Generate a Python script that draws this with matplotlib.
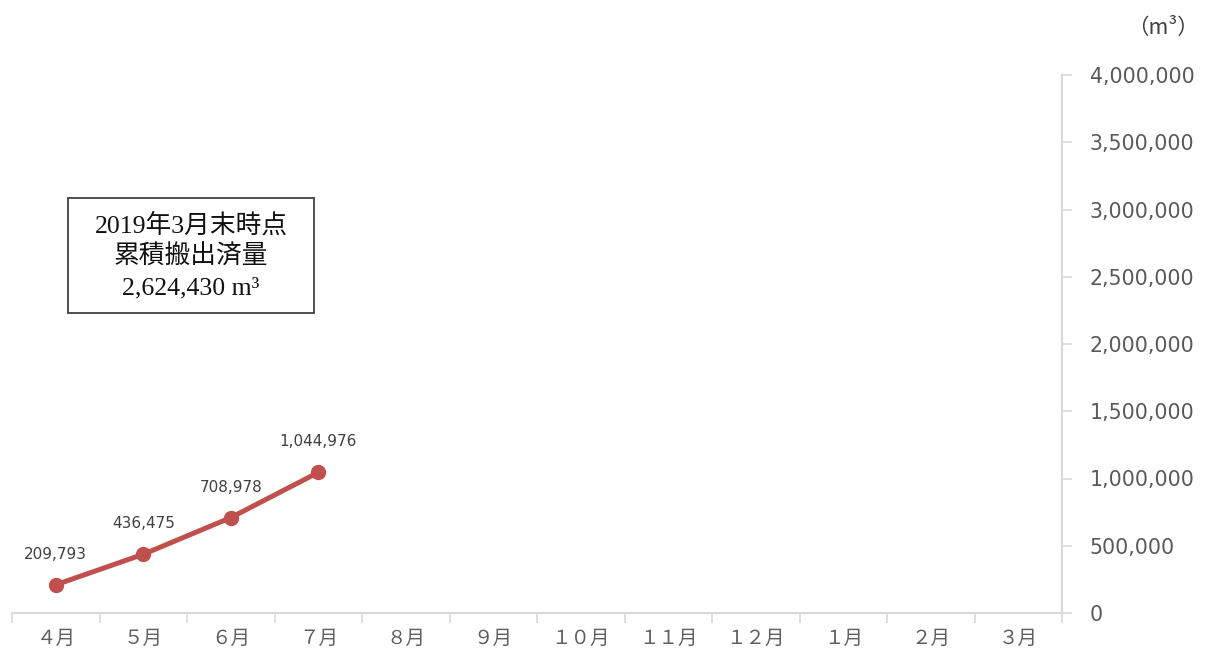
import matplotlib
matplotlib.use("Agg")
import matplotlib.pyplot as plt
from matplotlib.patches import Rectangle
from matplotlib.ticker import FuncFormatter, MultipleLocator

plt.rcParams['font.family'] = ['Noto Sans CJK JP', 'DejaVu Sans']

months = ["4月", "5月", "6月", "7月", "8月", "9月", "10月", "11月", "12月", "1月", "2月", "3月"]
cumulative = [209793, 436475, 708978, 1044976]
y_max = 4000000
y_step = 500000
box_lines = ["2019年3月末時点", "累積搬出済量", "2,624,430 m³"]

# the original labels use wide digits
FULLWIDTH = str.maketrans("0123456789", "０１２３４５６７８９")

W, H = 1207, 659
fig = plt.figure(figsize=(W / 100, H / 100), dpi=100)
ax = fig.add_axes([12 / W, (H - 613) / H, (1062 - 12) / W, (613 - 75) / H])

x = list(range(len(cumulative)))
ax.plot(x, cumulative, color="#C0504D", lw=3.6, marker="o", ms=10,
        solid_capstyle="round", zorder=3)
for xi, v in zip(x, cumulative):
    ax.annotate(f"{v:,}", (xi, v), xytext=(0, 22), textcoords="offset points",
                ha="center", va="center", fontsize=11, color="#404040",
                family=["DejaVu Sans"])

ax.set_xlim(-0.5, len(months) - 0.5)
ax.set_ylim(0, y_max)

# category axis: ticks between categories, labels centered
ax.set_xticks([i - 0.5 for i in range(len(months) + 1)])
ax.set_xticklabels([])
ax.set_xticks(range(len(months)), minor=True)
ax.set_xticklabels([m.translate(FULLWIDTH) for m in months], minor=True,
                   fontsize=14, color="#5f5f5f")
ax.tick_params(axis="x", which="major", length=7, width=1.2, color="#D9D9D9", direction="out")
ax.tick_params(axis="x", which="minor", length=0, pad=11)

ax.yaxis.tick_right()
ax.yaxis.set_major_locator(MultipleLocator(y_step))
ax.yaxis.set_major_formatter(FuncFormatter(lambda v, p: f"{int(v):,}"))
ax.tick_params(axis="y", length=7, width=1.2, color="#D9D9D9", direction="out",
               labelsize=14.8, labelcolor="#595959", pad=13)
for lbl in ax.get_yticklabels():
    lbl.set_family(["DejaVu Sans"])

for side in ["top", "left"]:
    ax.spines[side].set_visible(False)
ax.spines["right"].set_color("#D9D9D9")
ax.spines["bottom"].set_color("#D9D9D9")
ax.spines["right"].set_linewidth(1.5)
ax.spines["bottom"].set_linewidth(1.5)

fig.text(1199 / W, 1 - 28 / H, "（m³）", ha="right", va="center", fontsize=15.5,
         color="#404040", family=["Noto Sans CJK JP", "DejaVu Sans"])

# annotation box
fig.patches.append(Rectangle((68 / W, 1 - 313 / H), (314 - 68) / W, (313 - 198) / H,
                             transform=fig.transFigure, fill=False,
                             edgecolor="#404040", lw=1.3))
for i, line in enumerate(box_lines):
    fig.text(191 / W, 1 - (225 + 31.5 * i) / H, line, ha="center", va="center",
             fontsize=18.5, color="#111111",
             family=["Liberation Serif", "Noto Sans CJK JP"])

fig.savefig("out.png", dpi=100)
